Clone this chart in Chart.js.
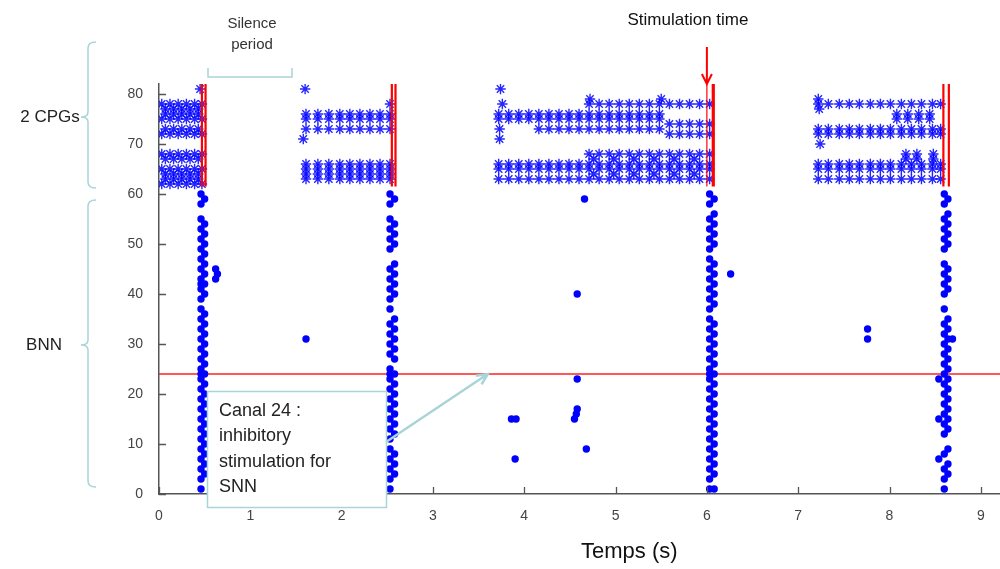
<!DOCTYPE html>
<html>
<head>
<meta charset="utf-8">
<script src="https://cdn.jsdelivr.net/npm/chart.js@4/dist/chart.umd.min.js"></script>
<style>
  html, body { margin: 0; padding: 0; background: #fff; }
</style>
</head>
<body>
<canvas id="raster" width="1000" height="569"></canvas>
<script>
// ==== données ====
// BNN : chaque burst = deux colonnes de canaux (temps gauche / droite)
const burst1Times = [0.46, 0.50];
const burst1Left = [1,3,5,7,9,11,13,15,17,19,21,23,24,25,27,29,31,33,35,37,39,41,42,43,45,47,49,51,53,55,58,60];
const burst1Right = [4,6,8,10,12,14,16,18,20,22,24,26,28,30,32,34,36,40,42,44,46,48,50,52,54,59];

const burst2Times = [2.53, 2.58];
const burst2Left = [1,3,5,7,9,11,13,15,17,19,21,23,24,25,28,30,32,34,37,39,41,43,45,49,51,53,55,58,60];
const burst2Right = [4,6,8,12,14,16,18,20,22,24,27,29,31,33,35,40,42,44,46,50,52,54,59];

const burst3Times = [6.03, 6.08];
const burst3Left = [1,3,5,7,9,11,13,15,17,19,21,23,24,25,27,29,31,33,35,37,39,41,43,45,47,49,51,53,55,58,60];
const burst3Right = [1,4,6,8,10,12,14,16,18,20,22,24,26,28,30,32,34,38,40,42,44,46,50,52,54,56,59];

const burst4Times = [8.60, 8.64];
const burst4Left = [1,3,5,8,12,14,16,18,20,22,24,26,28,30,32,34,37,40,42,44,46,49,51,53,55,58,60];
const burst4Right = [4,6,9,13,15,17,19,21,23,25,27,29,31,33,35,41,43,45,50,52,54,56,59];

// spikes isolés [temps, canal]
const bnnSparse = [[0.62,43],[0.64,44],[0.62,45],[1.61,31],[3.86,15],[3.91,15],[3.90,7],
  [4.55,15],[4.57,16],[4.58,17],[4.58,23],[4.58,40],[4.68,9],[4.66,59],[6.26,44],
  [7.76,33],[7.76,31],[8.54,23],[8.54,15],[8.54,7],[8.69,31]];

// CPG (canaux 62-81)
const cpg1TimesA = [0.03, 0.12, 0.21, 0.30, 0.39, 0.47];
const cpg1ChA = [78, 75, 72, 68, 65, 62];
const cpg1TimesB = [0.07, 0.16, 0.25, 0.34, 0.43];
const cpg1ChB = [77, 76, 73, 67, 64, 63];

const cpg2Times = [1.61, 1.74, 1.86, 1.98, 2.09, 2.20, 2.31, 2.42, 2.53];
const cpg2Ch = [76, 75, 73, 66, 65, 64, 63];

const cpg3TimesAll = [3.72,3.83,3.94,4.05,4.16,4.27,4.38,4.49,4.60,4.71,4.82,4.93,5.04,5.15,5.26,5.37,5.48,5.59,5.70,5.81,5.92,6.03];
const cpg3ChAll = [66, 65, 63];
const cpg3TimesEarly = [3.72,3.83,3.94,4.05,4.16,4.27,4.38,4.49,4.60,4.71,4.82,4.93,5.04,5.15,5.26,5.37,5.48];
const cpg3ChEarly = [76, 75];
const cpg3TimesMid = [4.16,4.27,4.38,4.49,4.60,4.71,4.82,4.93,5.04,5.15,5.26,5.37,5.48];
const cpg3ChMid = [73];
const cpg3TimesLate = [4.71,4.82,4.93,5.04,5.15,5.26,5.37,5.48,5.59,5.70,5.81,5.92,6.03];
const cpg3ChLate = [78, 68];
const cpg3TimesLateB = [4.76, 4.98, 5.20, 5.42, 5.64, 5.86];
const cpg3ChLateB = [67, 64];
const cpg3TimesEnd = [5.59, 5.70, 5.81, 5.92, 6.03];
const cpg3ChEnd = [74, 72];

const cpg4Times = [7.22,7.33,7.45,7.56,7.67,7.79,7.90,8.01,8.13,8.24,8.35,8.47,8.56];
const cpg4Ch = [78, 73, 72, 66, 65, 63];
const cpg4TimesPart = [8.08, 8.20, 8.32, 8.44];
const cpg4ChPart = [76, 75];
const cpg4TimesPart2 = [8.18, 8.30, 8.48];
const cpg4ChPart2 = [68, 67];

const cpgSparse = [[0.45,81],[1.60,81],[1.58,71],[2.53,78],[3.74,81],[3.76,78],[3.73,73],
  [3.73,71],[4.72,79],[5.50,79],[7.22,79],[7.24,70],[7.23,77]];

// stimulations (lignes rouges doubles) et canal 24
const stimLeft = [0.47, 2.55, 6.00, 8.59];
const stimRight = [0.51, 2.59, 6.07, 8.65];
const stimWidthLeft = [2.2, 2.2, 1.2, 2.2];
const stimWidthRight = [2.2, 2.2, 3.2, 2.2];
const stimRange = [61.5, 82];
const canal24 = 24;

const xTicks = [0, 1, 2, 3, 4, 5, 6, 7, 8, 9];
const yTicks = [0, 10, 20, 30, 40, 50, 60, 70, 80];

// ==== construction des points ====
function column(t, chans) { return chans.map(c => ({x: t, y: c})); }
function grid(times, chans) {
    const pts = [];
    chans.forEach(c => times.forEach(t => pts.push({x: t, y: c})));
    return pts;
}

const bnnPoints = [].concat(
    column(burst1Times[0], burst1Left), column(burst1Times[1], burst1Right),
    column(burst2Times[0], burst2Left), column(burst2Times[1], burst2Right),
    column(burst3Times[0], burst3Left), column(burst3Times[1], burst3Right),
    column(burst4Times[0], burst4Left), column(burst4Times[1], burst4Right),
    bnnSparse.map(p => ({x: p[0], y: p[1]}))
);

const cpgPoints = [].concat(
    grid(cpg1TimesA, cpg1ChA), grid(cpg1TimesB, cpg1ChB),
    grid(cpg2Times, cpg2Ch),
    grid(cpg3TimesAll, cpg3ChAll), grid(cpg3TimesEarly, cpg3ChEarly),
    grid(cpg3TimesMid, cpg3ChMid), grid(cpg3TimesLate, cpg3ChLate),
    grid(cpg3TimesLateB, cpg3ChLateB), grid(cpg3TimesEnd, cpg3ChEnd),
    grid(cpg4Times, cpg4Ch), grid(cpg4TimesPart, cpg4ChPart), grid(cpg4TimesPart2, cpg4ChPart2),
    cpgSparse.map(p => ({x: p[0], y: p[1]}))
);

const stimSets = [];
function addStim(times, widths) {
    times.forEach((t, i) => {
        stimSets.push({
            data: [{x: t, y: stimRange[0]}, {x: t, y: stimRange[1]}],
            showLine: true, borderColor: '#ff0000', borderWidth: widths[i], pointRadius: 0
        });
    });
}
addStim(stimLeft, stimWidthLeft);
addStim(stimRight, stimWidthRight);

const FONT = '"Liberation Sans", Arial, sans-serif';
const TEAL = '#a9d4d8';

// ==== annotations (accolades, textes, encadré) ====
const decorPlugin = {
    id: 'decor',
    afterDraw(chart) {
        const ctx = chart.ctx;
        const xs = chart.scales.x, ys = chart.scales.y, area = chart.chartArea;
        ctx.save();

        // ticks vers l'intérieur
        ctx.strokeStyle = '#555';
        ctx.lineWidth = 1.3;
        ctx.beginPath();
        yTicks.forEach(v => {
            const py = Math.round(ys.getPixelForValue(v)) + 0.5;
            ctx.moveTo(area.left, py); ctx.lineTo(area.left + 7, py);
        });
        xTicks.forEach(v => {
            const px = Math.round(xs.getPixelForValue(v)) + 0.5;
            ctx.moveTo(px, area.bottom); ctx.lineTo(px, area.bottom - 7);
        });
        ctx.stroke();

        // titre de l'axe x
        ctx.fillStyle = '#111';
        ctx.font = '22px ' + FONT;
        ctx.textAlign = 'center';
        ctx.textBaseline = 'middle';
        ctx.fillText('Temps (s)', xs.getPixelForValue(5.15), 552);

        // Stimulation time + flèche
        ctx.font = '17px ' + FONT;
        ctx.fillText('Stimulation time', 688, 20);
        const ax = xs.getPixelForValue(6.0);
        ctx.strokeStyle = '#ff0000';
        ctx.lineWidth = 2;
        ctx.beginPath();
        ctx.moveTo(ax, 47); ctx.lineTo(ax, 84);
        ctx.moveTo(ax - 5, 74); ctx.lineTo(ax, 84); ctx.lineTo(ax + 5, 74);
        ctx.stroke();

        // Silence period
        ctx.fillStyle = '#333';
        ctx.font = '15px ' + FONT;
        ctx.fillText('Silence', 252, 24);
        ctx.fillText('period', 252, 45);
        ctx.strokeStyle = TEAL;
        ctx.lineWidth = 1.5;
        ctx.beginPath();
        ctx.moveTo(208, 68); ctx.lineTo(208, 77); ctx.lineTo(292, 77); ctx.lineTo(292, 68);
        ctx.stroke();

        // accolades gauche
        function brace(x, top, mid, bottom) {
            ctx.beginPath();
            ctx.moveTo(x + 8, top);
            ctx.quadraticCurveTo(x, top, x, top + 6);
            ctx.lineTo(x, mid - 5);
            ctx.quadraticCurveTo(x, mid, x - 7, mid);
            ctx.quadraticCurveTo(x, mid, x, mid + 5);
            ctx.lineTo(x, bottom - 6);
            ctx.quadraticCurveTo(x, bottom, x + 8, bottom);
            ctx.stroke();
        }
        brace(88, 42, 117, 188);
        brace(88, 200, 345, 487);
        ctx.fillStyle = '#222';
        ctx.font = '17px ' + FONT;
        ctx.fillText('2 CPGs', 50, 117);
        ctx.fillText('BNN', 44, 345);

        // encadré Canal 24
        ctx.fillStyle = '#fff';
        ctx.fillRect(207, 391, 179, 116);
        ctx.strokeStyle = TEAL;
        ctx.lineWidth = 1.5;
        ctx.strokeRect(207.5, 391.5, 179, 116);
        ctx.fillStyle = '#222';
        ctx.textAlign = 'left';
        ctx.font = '18px ' + FONT;
        ['Canal 24 :', 'inhibitory', 'stimulation for', 'SNN'].forEach((s, i) => {
            ctx.fillText(s, 219, 411 + i * 25.5);
        });

        // flèche vers le canal 24
        const tx = xs.getPixelForValue(3.6), ty = ys.getPixelForValue(canal24);
        const sx = 386, sy = 442;
        const ang = Math.atan2(ty - sy, tx - sx);
        ctx.strokeStyle = TEAL;
        ctx.lineWidth = 2.5;
        ctx.beginPath();
        ctx.moveTo(sx, sy); ctx.lineTo(tx, ty);
        ctx.moveTo(tx - 12 * Math.cos(ang - 0.45), ty - 12 * Math.sin(ang - 0.45));
        ctx.lineTo(tx, ty);
        ctx.lineTo(tx - 12 * Math.cos(ang + 0.45), ty - 12 * Math.sin(ang + 0.45));
        ctx.stroke();

        ctx.restore();
    }
};

const ctx = document.getElementById('raster').getContext('2d');
const rasterChart = new Chart(ctx, {
    type: 'scatter',
    data: {
        datasets: stimSets.concat([
            {
                label: 'BNN',
                data: bnnPoints,
                pointStyle: 'circle',
                pointRadius: 3.7,
                backgroundColor: '#0000ff',
                borderWidth: 0
            },
            {
                label: 'CPG',
                data: cpgPoints,
                pointStyle: 'star',
                pointRadius: 5.2,
                borderColor: 'rgba(0,0,255,0.85)',
                borderWidth: 1.4,
                backgroundColor: '#0000ff'
            },
            {
                label: 'Canal 24',
                data: [{x: 0, y: canal24}, {x: 9.21, y: canal24}],
                showLine: true,
                borderColor: '#ff2020',
                borderWidth: 1.3,
                pointRadius: 0
            }
        ])
    },
    options: {
        responsive: false,
        animation: false,
        events: [],
        layout: { autoPadding: false, padding: { top: 84, left: 0, right: 0, bottom: 0 } },
        plugins: { legend: { display: false }, tooltip: { enabled: false } },
        scales: {
            x: {
                type: 'linear',
                min: 0,
                max: 9.21,
                ticks: { stepSize: 1, includeBounds: false, color: '#444', padding: 6,
                         font: { family: FONT, size: 14 } },
                grid: { display: false },
                border: { display: true, color: '#555', width: 1.5 },
                afterFit: s => { s.height = 75; }
            },
            y: {
                type: 'linear',
                min: 0,
                max: 82,
                ticks: { stepSize: 10, includeBounds: false, color: '#444', padding: 8,
                         font: { family: FONT, size: 14 } },
                grid: { display: false },
                border: { display: true, color: '#555', width: 1.5 },
                afterFit: s => { s.width = 159; }
            }
        }
    },
    plugins: [decorPlugin]
});
</script>
</body>
</html>
